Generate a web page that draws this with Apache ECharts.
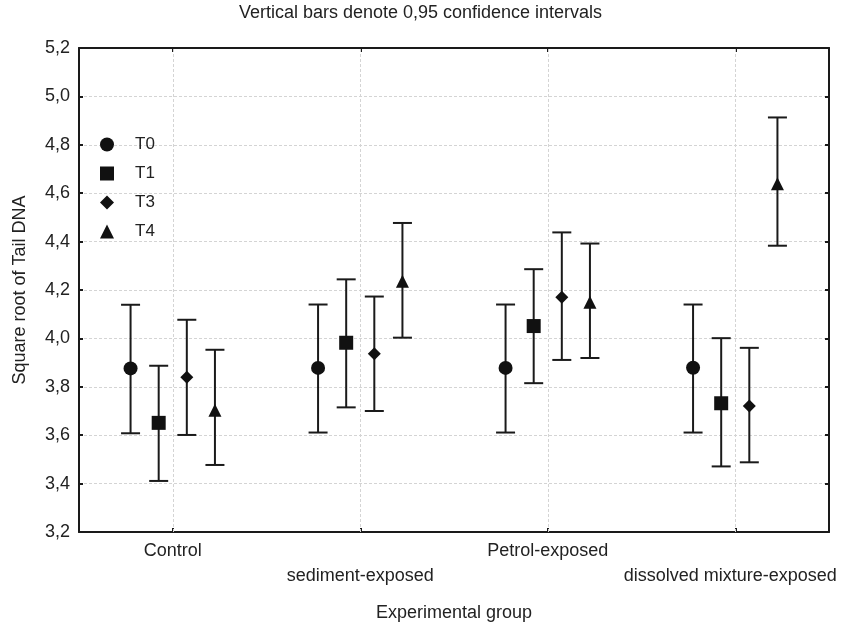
<!DOCTYPE html>
<html>
<head>
<meta charset="utf-8">
<script src="https://cdn.jsdelivr.net/npm/echarts@6/dist/echarts.min.js"></script>
<style>html,body{margin:0;padding:0;background:#fff;}#chart{width:841px;height:624px;}</style>
</head>
<body>
<div id="chart"></div>
<script>
// ---- data ----
var groups = ['Control', 'sediment-exposed', 'Petrol-exposed', 'dissolved mixture-exposed'];
var seriesNames = ['T0', 'T1', 'T3', 'T4'];
var T0_mean = [3.876, 3.878, 3.878, 3.879];
var T0_low  = [3.608, 3.611, 3.611, 3.611];
var T0_high = [4.139, 4.140, 4.140, 4.140];
var T1_mean = [3.651, 3.982, 4.051, 3.732];
var T1_low  = [3.411, 3.715, 3.815, 3.471];
var T1_high = [3.887, 4.244, 4.286, 4.001];
var T3_mean = [3.839, 3.937, 4.170, 3.721];
var T3_low  = [3.601, 3.700, 3.911, 3.488];
var T3_high = [4.077, 4.173, 4.438, 3.961];
var T4_mean = [3.703, 4.236, 4.149, 4.639];
var T4_low  = [3.477, 4.003, 3.919, 4.383];
var T4_high = [3.953, 4.477, 4.392, 4.913];
var yTicks = { min: 3.2, max: 5.2, interval: 0.2 };

// ---- style / layout ----
var FONT = '"Liberation Sans", Arial, sans-serif';
var INK = '#1a1a1a';
var TXT = '#222';
var GRIDC = '#d4d4d4';
var symbols = ['circle', 'rect', 'diamond', 'triangle'];
var symSizes = [14, 14, 13, 13];
var offsets = [-0.225, -0.075, 0.075, 0.225];
var CAP = 9.5;

var means = [T0_mean, T1_mean, T3_mean, T4_mean];
var lows = [T0_low, T1_low, T3_low, T4_low];
var highs = [T0_high, T1_high, T3_high, T4_high];

var series = [];
seriesNames.forEach(function (name, s) {
  var barData = groups.map(function (g, i) { return [i + 0.5 + offsets[s], lows[s][i], highs[s][i]]; });
  var ptData = groups.map(function (g, i) { return [i + 0.5 + offsets[s], means[s][i]]; });
  var bar = {
    type: 'custom',
    name: name + ' CI',
    xAxisIndex: 1,
    yAxisIndex: 0,
    z: 3,
    silent: true,
    encode: { x: 0, y: [1, 2] },
    data: barData,
    renderItem: function (params, api) {
      var x = api.value(0);
      var pHi = api.coord([x, api.value(2)]);
      var pLo = api.coord([x, api.value(1)]);
      var st = { stroke: INK, lineWidth: 2, fill: null };
      return {
        type: 'group',
        children: [
          { type: 'line', shape: { x1: pHi[0], y1: pHi[1], x2: pLo[0], y2: pLo[1] }, style: st },
          { type: 'line', shape: { x1: pHi[0] - CAP, y1: pHi[1], x2: pHi[0] + CAP, y2: pHi[1] }, style: st },
          { type: 'line', shape: { x1: pLo[0] - CAP, y1: pLo[1], x2: pLo[0] + CAP, y2: pLo[1] }, style: st }
        ]
      };
    }
  };
  if (s === 0) {
    bar.markLine = {
      silent: true,
      symbol: ['none', 'none'],
      label: { show: false },
      lineStyle: { color: GRIDC, type: [3, 2], width: 1 },
      animation: false,
      data: groups.map(function (g, i) { return { xAxis: i + 0.5 }; })
    };
  }
  series.push(bar);
  series.push({
    type: 'scatter',
    name: name,
    xAxisIndex: 1,
    yAxisIndex: 0,
    z: 5,
    symbol: symbols[s],
    symbolSize: symSizes[s],
    itemStyle: { color: '#111', opacity: 1 },
    data: ptData
  });
});

var chart = echarts.init(document.getElementById('chart'), null, { renderer: 'canvas' });
var axisLineStyle = { color: INK, width: 2 };
chart.setOption({
  animation: false,
  backgroundColor: '#fff',
  title: {
    text: 'Vertical bars denote 0,95 confidence intervals',
    left: 'center',
    top: 4,
    padding: 0,
    textStyle: { fontFamily: FONT, fontSize: 18, fontWeight: 'normal', color: TXT }
  },
  legend: {
    orient: 'vertical',
    left: 100,
    top: 136,
    padding: 0,
    itemWidth: 14,
    itemHeight: 14,
    itemGap: 12,
    selectedMode: false,
    textStyle: { fontFamily: FONT, fontSize: 17, color: TXT, lineHeight: 14, padding: [0, 0, 0, 16] },
    data: seriesNames.map(function (n, s) { return { name: n, icon: symbols[s], itemStyle: { color: '#111' } }; })
  },
  grid: { left: 79, right: 12, top: 48, bottom: 92, containLabel: false, outerBoundsMode: 'none' },
  xAxis: [
    {
      type: 'category',
      data: groups,
      position: 'bottom',
      boundaryGap: true,
      axisLine: { show: true, lineStyle: axisLineStyle },
      axisTick: { show: true, inside: true, alignWithLabel: true, length: 4, lineStyle: { color: INK, width: 2 } },
      axisLabel: {
        interval: 0,
        margin: 7,
        hideOverlap: false,
        fontFamily: FONT,
        fontSize: 18,
        lineHeight: 25,
        color: TXT,
        formatter: function (v, i) {
          if (i === groups.length - 1) return '\n{last|' + v + '}';
          return i % 2 ? '\n' + v : v;
        },
        rich: { last: { fontFamily: FONT, fontSize: 18, lineHeight: 25, color: TXT, padding: [0, 10, 0, 0] } }
      },
      splitLine: { show: false },
      name: 'Experimental group',
      nameLocation: 'middle',
      nameGap: 72,
      nameTextStyle: { fontFamily: FONT, fontSize: 18, color: TXT }
    },
    { type: 'value', min: 0, max: 4, show: false, splitLine: { show: false } },
    {
      type: 'category',
      data: groups,
      position: 'top',
      boundaryGap: true,
      axisLine: { show: true, lineStyle: axisLineStyle },
      axisTick: { show: true, inside: true, alignWithLabel: true, length: 4, lineStyle: { color: INK, width: 2 } },
      axisLabel: { show: false },
      splitLine: { show: false }
    }
  ],
  yAxis: [
    {
      type: 'value',
      min: yTicks.min, max: yTicks.max, interval: yTicks.interval,
      position: 'left',
      axisLine: { show: true, lineStyle: axisLineStyle },
      axisTick: { show: true, inside: true, length: 4, lineStyle: { color: INK, width: 2 } },
      axisLabel: {
        margin: 9, fontFamily: FONT, fontSize: 18, color: TXT,
        formatter: function (v) { return v.toFixed(1).replace('.', ','); }
      },
      splitLine: { show: true, lineStyle: { color: GRIDC, type: [3, 2], width: 1 } },
      name: 'Square root of Tail DNA',
      nameLocation: 'middle',
      nameGap: 50,
      nameTextStyle: { fontFamily: FONT, fontSize: 18, color: TXT }
    },
    {
      type: 'value',
      min: yTicks.min, max: yTicks.max, interval: yTicks.interval,
      position: 'right',
      axisLine: { show: true, lineStyle: axisLineStyle },
      axisTick: { show: true, inside: true, length: 4, lineStyle: { color: INK, width: 2 } },
      axisLabel: { show: false },
      splitLine: { show: false }
    }
  ],
  series: series
});
</script>
</body>
</html>
